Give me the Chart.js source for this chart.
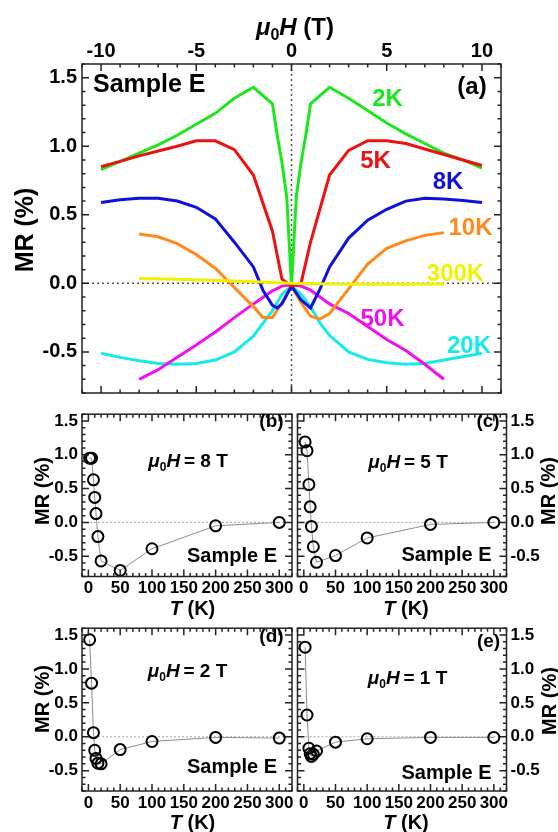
<!DOCTYPE html>
<html>
<head>
<meta charset="utf-8">
<script src="https://cdn.jsdelivr.net/npm/chart.js@4.4.1/dist/chart.umd.min.js"></script>
<style>
  html, body { margin: 0; padding: 0; background: #fff; }
  body { width: 558px; height: 832px; position: relative; overflow: hidden; }
  canvas { position: absolute; }
</style>
</head>
<body>
<canvas id="pa" width="558" height="410" style="left:0;top:0"></canvas>
<canvas id="pb" width="300" height="222" style="left:0;top:400px"></canvas>
<canvas id="pc" width="268" height="222" style="left:290px;top:400px"></canvas>
<canvas id="pd" width="300" height="218" style="left:0;top:614px"></canvas>
<canvas id="pe" width="268" height="218" style="left:290px;top:614px"></canvas>
<script>
// ---- panel (a): MR vs field, one curve per temperature ----
const fieldTicks = [-10, -5, 0, 5, 10];
const mrTicks = [-0.5, 0.0, 0.5, 1.0, 1.5];

const h2K = [-10, -9, -8, -7, -6, -5, -4, -3, -2, -1, -0.75, -0.5, -0.25, 0, 0.25, 0.5, 0.75, 1, 2, 3, 4, 5, 6, 7, 8, 9, 10];
const mr2K = [0.83, 0.89, 0.95, 1.01, 1.08, 1.16, 1.24, 1.35, 1.43, 1.31, 1.08, 0.88, 0.63, -0.02, 0.63, 0.88, 1.08, 1.31, 1.43, 1.35, 1.26, 1.17, 1.09, 1.02, 0.95, 0.90, 0.84];

const h5K = [-10, -9, -8, -7, -6, -5, -4, -3, -2, -1, -0.5, 0, 0.5, 1, 2, 3, 4, 5, 6, 7, 8, 9, 10];
const mr5K = [0.85, 0.89, 0.93, 0.965, 1.0, 1.04, 1.04, 0.975, 0.79, 0.38, 0.03, -0.02, 0.0, 0.3, 0.79, 0.97, 1.04, 1.04, 1.02, 0.98, 0.94, 0.90, 0.86];

const h8K = [-10, -9, -8, -7, -6, -5, -4, -3, -2, -1.5, -1, -0.75, -0.5, 0, 0.5, 1, 1.5, 2, 3, 4, 5, 6, 7, 8, 9, 10];
const mr8K = [0.59, 0.61, 0.62, 0.62, 0.60, 0.555, 0.47, 0.30, 0.12, -0.05, -0.16, -0.18, -0.15, -0.02, -0.12, -0.18, -0.04, 0.12, 0.33, 0.46, 0.54, 0.60, 0.62, 0.615, 0.605, 0.59];

const h10K = [-8, -7, -6, -5, -4, -3, -2, -1.5, -1, -0.5, 0, 0.5, 1, 1.5, 2, 3, 4, 5, 6, 7, 8];
const mr10K = [0.36, 0.34, 0.29, 0.21, 0.11, -0.03, -0.17, -0.25, -0.25, -0.14, -0.02, -0.14, -0.24, -0.26, -0.22, -0.04, 0.14, 0.255, 0.31, 0.35, 0.37];

const h20K = [-10, -9, -8, -7, -6, -5, -4, -3, -2, -1, -0.5, 0, 0.5, 1, 1.5, 2, 3, 4, 5, 6, 7, 8, 9, 10];
const mr20K = [-0.51, -0.54, -0.565, -0.585, -0.59, -0.585, -0.56, -0.50, -0.385, -0.20, -0.08, -0.02, -0.08, -0.17, -0.29, -0.38, -0.50, -0.555, -0.58, -0.59, -0.585, -0.56, -0.535, -0.51];

const h50K = [-8, -7, -6, -5, -4, -3, -2, -1, -0.5, 0, 0.5, 1, 2, 3, 4, 5, 6, 7, 8];
const mr50K = [-0.70, -0.63, -0.54, -0.45, -0.355, -0.25, -0.15, -0.055, -0.02, -0.01, -0.02, -0.05, -0.15, -0.22, -0.315, -0.41, -0.49, -0.59, -0.70];

const h300K = [-8, -6, -4, -2, 0, 2, 4, 6, 8];
const mr300K = [0.035, 0.03, 0.022, 0.012, 0.0, -0.004, -0.006, -0.006, -0.005];

// ---- panels (b)-(e): MR vs temperature at fixed field ----
const temps = [2, 5, 8, 10, 12, 15, 20, 50, 100, 200, 300];
const tempTicks = [0, 50, 100, 150, 200, 250, 300];
const mr8T = [0.95, 0.95, 0.63, 0.37, 0.13, -0.21, -0.57, -0.71, -0.39, -0.05, 0.0];
const mr5T = [1.19, 1.06, 0.56, 0.23, -0.06, -0.36, -0.59, -0.49, -0.23, -0.03, 0.0];
const mr2T = [1.43, 0.79, 0.06, -0.20, -0.32, -0.39, -0.40, -0.19, -0.07, -0.01, -0.02];
const mr1T = [1.32, 0.32, -0.17, -0.25, -0.29, -0.26, -0.21, -0.08, -0.03, -0.01, -0.01];

const FONT = '"Liberation Sans", Arial, sans-serif';

function pts(xs, ys) {
  return xs.map((x, i) => ({ x: x, y: ys[i] }));
}

// draw text made of parts: [text, 'i' italic | 's' subscript | '']
function drawText(ctx, t, ox, oy) {
  const size = t.size;
  let w = 0;
  const runs = t.parts.map(([s, st]) => {
    const sz = st === 's' ? Math.round(size * 0.65) : size;
    const f = (st === 'i' ? 'italic ' : '') + 'bold ' + sz + 'px ' + FONT;
    ctx.font = f;
    const tw = ctx.measureText(s).width;
    w += tw;
    return { s, f, tw, dy: st === 's' ? size * 0.22 : 0 };
  });
  ctx.save();
  ctx.translate(t.x - ox, t.y - oy);
  if (t.rot) ctx.rotate(-Math.PI / 2);
  let cx = t.align === 'left' ? 0 : t.align === 'right' ? -w : -w / 2;
  const base = size * 0.358;
  ctx.fillStyle = t.color || '#000';
  ctx.textAlign = 'left';
  ctx.textBaseline = 'alphabetic';
  runs.forEach(r => {
    ctx.font = r.f;
    ctx.fillText(r.s, cx, base + r.dy);
    cx += r.tw;
  });
  ctx.restore();
}

function eachTick(min, max, minor, major, fn) {
  for (let k = Math.ceil(min / minor - 1e-9); k * minor <= max + 1e-9; k++) {
    const v = k * minor;
    const r = v / major;
    fn(v, Math.abs(r - Math.round(r)) < 1e-6);
  }
}

// frame, inward ticks on all sides, dotted zero lines and labels
function framePlugin(cfg) {
  return {
    id: 'frame',
    beforeDatasetsDraw(chart) {
      const { ctx, chartArea: a, scales } = chart;
      const y0 = scales.y.getPixelForValue(0);
      ctx.save();
      ctx.strokeStyle = cfg.zeroColor;
      ctx.lineWidth = cfg.zeroWidth;
      ctx.setLineDash(cfg.zeroDash);
      ctx.beginPath();
      ctx.moveTo(a.left, y0); ctx.lineTo(a.right, y0);
      if (cfg.zeroX) {
        const x0 = scales.x.getPixelForValue(0);
        ctx.moveTo(x0, a.top); ctx.lineTo(x0, a.bottom);
      }
      ctx.stroke();
      ctx.restore();
    },
    afterDraw(chart) {
      const { ctx, chartArea: a, scales: { x, y } } = chart;
      ctx.save();
      ctx.strokeStyle = '#222';
      ctx.lineWidth = 1.5;
      ctx.strokeRect(a.left, a.top, a.right - a.left, a.bottom - a.top);
      ctx.beginPath();
      eachTick(x.min, x.max, cfg.xMinor, cfg.xMajor, (v, major) => {
        const px = x.getPixelForValue(v), L = major ? 7 : 3.5;
        ctx.moveTo(px, a.top); ctx.lineTo(px, a.top + L);
        ctx.moveTo(px, a.bottom); ctx.lineTo(px, a.bottom - L);
      });
      eachTick(y.min, y.max, cfg.yMinor, cfg.yMajor, (v, major) => {
        const py = y.getPixelForValue(v), L = major ? 7 : 3.5;
        ctx.moveTo(a.left, py); ctx.lineTo(a.left + L, py);
        ctx.moveTo(a.right, py); ctx.lineTo(a.right - L, py);
      });
      ctx.stroke();
      cfg.texts.forEach(t => drawText(ctx, t, cfg.ox, cfg.oy));
      ctx.restore();
    }
  };
}

function axis(position, min, max, tickVals, fmt, fontSize, pad, fitSize) {
  const horiz = position === 'top' || position === 'bottom';
  return {
    type: 'linear',
    position: position,
    min: min,
    max: max,
    grid: { display: false, drawTicks: false },
    border: { display: false },
    afterBuildTicks: s => { s.ticks = tickVals.map(v => ({ value: v })); },
    afterFit: s => { if (horiz) s.height = fitSize; else s.width = fitSize; },
    ticks: {
      autoSkip: false, maxRotation: 0, padding: pad, color: '#000',
      font: { family: FONT, size: fontSize, weight: 'bold' },
      callback: fmt
    }
  };
}

const baseOpts = {
  responsive: false,
  animation: false,
  events: [],
  plugins: { legend: { display: false }, tooltip: { enabled: false } }
};

// ---------- panel (a) ----------
const curves = [
  ['300K', h300K, mr300K, '#f2f200'],
  ['5K', h5K, mr5K, '#ee1111'],
  ['2K', h2K, mr2K, '#1ee61e'],
  ['8K', h8K, mr8K, '#1010dd'],
  ['10K', h10K, mr10K, '#ff8a1c'],
  ['50K', h50K, mr50K, '#ee11ee'],
  ['20K', h20K, mr20K, '#16eaea']
];

const muH = [['μ', 'i'], ['0', 's'], ['H', 'i']];

new Chart(document.getElementById('pa'), {
  type: 'scatter',
  data: {
    datasets: curves.map(([name, h, mr, col]) => ({
      label: name, data: pts(h, mr), showLine: true,
      borderColor: col, borderWidth: 3, pointRadius: 0, tension: 0
    }))
  },
  options: Object.assign({}, baseOpts, {
    layout: { padding: { left: 0, top: 0, right: 57, bottom: 8 } },
    scales: {
      x: axis('top', -11, 11, fieldTicks, v => String(v), 20, 1, 64),
      y: axis('left', -0.8, 1.6, mrTicks, v => v.toFixed(1), 20, 5, 82)
    }
  }),
  plugins: [framePlugin({
    ox: 0, oy: 0, xMinor: 1, xMajor: 5, yMinor: 0.1, yMajor: 0.5,
    zeroX: true, zeroColor: '#555', zeroWidth: 1.5, zeroDash: [2, 3],
    texts: [
      { x: 295, y: 26.5, size: 24, parts: muH.concat([[' (T)', '']]) },
      { x: 24, y: 230, size: 25, rot: true, parts: [['MR (%)', '']] },
      { x: 93, y: 83.5, size: 25, align: 'left', parts: [['Sample E', '']] },
      { x: 472, y: 85, size: 24, parts: [['(a)', '']] },
      { x: 387.5, y: 97.5, size: 24, color: '#1ee61e', parts: [['2K', '']] },
      { x: 375.5, y: 159, size: 24, color: '#ee1111', parts: [['5K', '']] },
      { x: 448, y: 180, size: 24, color: '#1010dd', parts: [['8K', '']] },
      { x: 470.5, y: 226.5, size: 24, color: '#ff8a1c', parts: [['10K', '']] },
      { x: 455.5, y: 272.5, size: 24, color: '#f2f200', parts: [['300K', '']] },
      { x: 382.5, y: 317, size: 24, color: '#ee11ee', parts: [['50K', '']] },
      { x: 469, y: 344.5, size: 24, color: '#16eaea', parts: [['20K', '']] }
    ]
  })]
});

// ---------- panels (b)-(e) ----------
function tempPanel(id, ox, oy, w, h, side, mr, field, tag, pos) {
  const padTop = pos.top - oy;
  const xh = h - padTop - 168.5;
  const leftSide = side === 'left';
  const padding = leftSide
    ? { left: 0, top: padTop, right: 8, bottom: 0 }
    : { left: 6, top: padTop, right: 0, bottom: 0 };
  new Chart(document.getElementById(id), {
    type: 'scatter',
    data: {
      datasets: [{
        data: pts(temps, mr), showLine: true,
        borderColor: '#8c8c8c', borderWidth: 1,
        pointRadius: 5.5, pointBorderWidth: 2,
        pointBorderColor: '#000', pointBackgroundColor: 'rgba(255,255,255,0)'
      }]
    },
    options: Object.assign({}, baseOpts, {
      layout: { padding: padding },
      scales: {
        x: axis('bottom', -10, 320, tempTicks, v => String(v), 17, 2, xh),
        y: axis(side, -0.8, 1.6, mrTicks, v => v.toFixed(1), 17, 4, leftSide ? 82 : 51.5)
      }
    }),
    plugins: [framePlugin({
      ox: ox, oy: oy, xMinor: 10, xMajor: 50, yMinor: 0.1, yMajor: 0.5,
      zeroX: false, zeroColor: '#aaa', zeroWidth: 1, zeroDash: [2, 2],
      texts: [
        { x: pos.mrX, y: pos.mrY, size: 20, rot: true, parts: [['MR (%)', '']] },
        { x: pos.tX, y: pos.tY, size: 20, parts: [['T', 'i'], [' (K)', '']] },
        { x: pos.hX, y: pos.hY, size: 19, parts: muH.concat([['\u2009= ' + field + ' T', '']]) },
        { x: pos.sX, y: pos.sY, size: 20, align: 'right', parts: [['Sample E', '']] },
        { x: pos.lX, y: pos.lY, size: 19, parts: [[tag, '']] }
      ]
    })]
  });
}

tempPanel('pb', 0, 400, 300, 222, 'left', mr8T, 8, '(b)',
  { top: 408, mrX: 41.5, mrY: 491, tX: 192.5, tY: 607.5, hX: 188, hY: 460, sX: 277, sY: 555, lX: 271.5, lY: 420 });
tempPanel('pc', 290, 400, 268, 222, 'right', mr5T, 5, '(c)',
  { top: 408, mrX: 547.5, mrY: 491, tX: 406, tY: 607.5, hX: 408, hY: 461, sX: 491.5, sY: 553.5, lX: 488, lY: 420 });
tempPanel('pd', 0, 614, 300, 218, 'left', mr2T, 2, '(d)',
  { top: 622.5, mrX: 41.5, mrY: 699, tX: 192.5, tY: 821.5, hX: 187.5, hY: 670, sX: 277, sY: 766, lX: 271.5, lY: 635 });
tempPanel('pe', 290, 614, 268, 218, 'right', mr1T, 1, '(e)',
  { top: 622.5, mrX: 548.5, mrY: 701, tX: 406, tY: 821.5, hX: 407.5, hY: 677, sX: 491.5, sY: 772, lX: 488.5, lY: 640 });
</script>
</body>
</html>
